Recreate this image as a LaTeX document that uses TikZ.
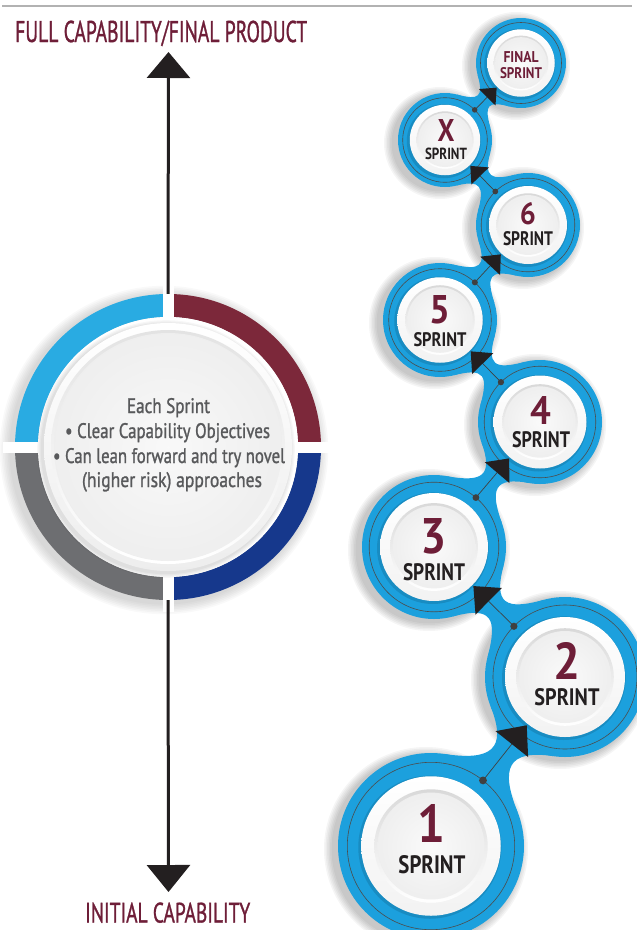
\documentclass[tikz,border=0pt]{standalone}
\usepackage{fontspec}
\setmainfont{PT Sans}
\newfontfamily\medfont{PT Sans}[FakeBold=1.3]
\usepackage{graphicx}
\usetikzlibrary{calc,arrows.meta}
\definecolor{ringblue}{RGB}{28,160,221}
\definecolor{maroon}{RGB}{110,30,56}
\definecolor{txtdark}{RGB}{35,31,32}
\definecolor{qblue}{RGB}{41,171,226}
\definecolor{qmaroon}{RGB}{124,40,58}
\definecolor{qgray}{RGB}{109,110,113}
\definecolor{qnavy}{RGB}{22,56,140}
\definecolor{bodygray}{RGB}{88,89,91}
\tikzset{
 sprintring/.style={circle, fill=ringblue, inner sep=0pt, draw=none},
 thinring/.style={draw=black!70, line width=0.6pt},
 linkline/.style={draw=black!75, line width=0.7pt},
 arrowblack/.style={fill=txtdark},
 dotgray/.style={fill=black!75},
 digitlbl/.style={inner sep=0pt, text=maroon, font=\bfseries},
 sprintlbl/.style={inner sep=0pt, text=txtdark, font=\bfseries},
 bodyline/.style={inner sep=0pt, anchor=base, text=bodygray, font=\medfont\fontsize{21}{24}\selectfont},
 shaft/.style={line width=3pt, draw=txtdark},
 headline/.style={inner sep=0pt, anchor=base west, text=maroon, font=\medfont},
}
\newcommand\neckshape[5]{%
  \pgfmathsetmacro\nkt{(2*(#3+#4)-8*#5)/5.196}%
  \coordinate (nkp1) at ($(#1)!#3pt!30:(#2)$);
  \coordinate (nkq1) at ($(nkp1)!\nkt pt!90:(#1)$);
  \coordinate (nkp2) at ($(#2)!#4pt!-30:(#1)$);
  \coordinate (nkq2) at ($(nkp2)!\nkt pt!-90:(#2)$);
  \coordinate (nkp3) at ($(#2)!#4pt!30:(#1)$);
  \coordinate (nkq3) at ($(nkp3)!\nkt pt!90:(#2)$);
  \coordinate (nkp4) at ($(#1)!#3pt!-30:(#2)$);
  \coordinate (nkq4) at ($(nkp4)!\nkt pt!-90:(#1)$);
  \fill[ringblue] (nkp1) .. controls (nkq1) and (nkq2) .. (nkp2) -- (nkp3) .. controls (nkq3) and (nkq4) .. (nkp4) -- cycle;
}
\newcommand\linkarrow[4]{%
  \pgfmathsetmacro\lkd{0.9*#3}%
  \pgfmathsetmacro\lktip{0.77*#4}%
  \pgfmathsetmacro\lkbase{1.07*#4}%
  \pgfmathsetmacro\lkw{0.26*#4}%
  \pgfmathsetmacro\lkdot{1.6+0.025*#3}%
  \coordinate (lkdot) at ($(#1)!\lkd pt!(#2)$);
  \coordinate (lktip) at ($(#2)!\lktip pt!(#1)$);
  \coordinate (lkbc) at ($(#2)!\lkbase pt!(#1)$);
  \draw[linkline] (lkdot) -- (lkbc);
  \fill[arrowblack] (lktip) -- ($(lkbc)!\lkw pt!90:(#2)$) -- ($(lkbc)!\lkw pt!-90:(#2)$) -- cycle;
  \fill[dotgray] (lkdot) circle (\lkdot pt);
}
\newcommand\sprintshadow[2]{%
  \foreach \k in {1,...,6}{%
    \pgfmathsetmacro\shr{#2+\k*1.5}%
    \fill[black,opacity=0.04] ($(#1)+(-5,-3)$) circle (\shr pt);
  }%
}
\newcommand\sprintdisc[3]{%
  \pgfmathsetmacro\sdD{2*#3}%
  \pgfmathsetmacro\sdA{0.9*#3}%
  \pgfmathsetmacro\sdC{0.75*#3}%
  \pgfmathsetmacro\sdG{0.75*#3+1.8}%
  \pgfmathsetmacro\sdE{0.61*#3}%
  \pgfmathsetmacro\sdF{0.575*#3}%
  \node[sprintring, minimum size=\sdD pt] (#1) at (#2) {};
  \draw[thinring] (#2) circle (\sdA pt);
  \fill[black, opacity=0.12] ($(#2)+(-1.2,-1.2)$) circle (\sdG pt);
  \shade[top color=white, bottom color=gray!10] (#2) circle (\sdC pt);
  \shade[top color=gray!30, bottom color=white] (#2) circle (\sdE pt);
  \shade[inner color=gray!4, outer color=gray!13] (#2) circle (\sdF pt);
}
\begin{document}
\begin{tikzpicture}[x=1pt,y=1pt]
\useasboundingbox (0,0) rectangle (637,-930);
% top rule
\coordinate (ruleL) at (2,-6);
\coordinate (ruleR) at (632,-6);
\draw[line width=2.5pt, gray!60] (ruleL) -- (ruleR);
% ---------- big circle ----------
\coordinate (cc) at (168,-447);
\foreach \k in {1,...,7}{%
  \pgfmathsetmacro\shr{153+\k*1.6}%
  \fill[black,opacity=0.025] ($(cc)+(-4,-3)$) circle (\shr pt);
}
\fill[qmaroon] ($(cc)+(0:153)$) arc[start angle=0,end angle=90,radius=153] -- ($(cc)+(90:130)$) arc[start angle=90,end angle=0,radius=130] -- cycle;
\fill[qblue] ($(cc)+(90:153)$) arc[start angle=90,end angle=180,radius=153] -- ($(cc)+(180:130)$) arc[start angle=180,end angle=90,radius=130] -- cycle;
\fill[qgray] ($(cc)+(180:153)$) arc[start angle=180,end angle=270,radius=153] -- ($(cc)+(270:130)$) arc[start angle=270,end angle=180,radius=130] -- cycle;
\fill[qnavy] ($(cc)+(270:153)$) arc[start angle=270,end angle=360,radius=153] -- ($(cc)+(0:130)$) arc[start angle=360,end angle=270,radius=130] -- cycle;
\fill[white] ($(cc)+(-5,165)$) rectangle ($(cc)+(5.5,-165)$);
\fill[white] ($(cc)+(-165,5)$) rectangle ($(cc)+(165,-5.5)$);
\fill[white] (cc) circle (130pt);
\foreach \k in {1,...,4}{%
  \pgfmathsetmacro\shr{124+\k*1.2}%
  \fill[black,opacity=0.03] ($(cc)+(-2,-2)$) circle (\shr pt);
}
\node[circle, minimum size=306pt, inner sep=0pt] (core) at (cc) {};
\shade[top color=white, bottom color=gray!14] (cc) circle (124pt);
\shade[top color=gray!22, bottom color=white] (cc) circle (117pt);
\shade[inner color=gray!5, outer color=gray!13] (cc) circle (114pt);
\node[bodyline] (l1) at (168.5,-413) {\resizebox{83pt}{\height}{Each Sprint}};
\node[bodyline] (l2) at (167.5,-438) {\resizebox{205pt}{\height}{• Clear Capability Objectives}};
\node[bodyline] (l3) at (169,-463) {\resizebox{232pt}{\height}{• Can lean forward and try novel}};
\node[bodyline] (l4) at (172,-487) {\resizebox{180pt}{\height}{(higher risk) approaches}};
% vertical arrows
\coordinate (uptip) at (168.5,-52);
\coordinate (downtip) at (168.5,-892);
\draw[shaft, -{Triangle[width=43pt,length=26pt]}] (core.north) -- (uptip);
\draw[shaft, -{Triangle[width=43pt,length=27pt]}] (core.south) -- (downtip);
\node[headline] (top) at (15,-42) {\resizebox{292pt}{\height}{\fontsize{30}{30}\selectfont FULL CAPABILITY/FINAL PRODUCT}};
\node[headline] (bottom) at (85,-922.5) {\resizebox{165pt}{\height}{\fontsize{28}{28}\selectfont INITIAL CAPABILITY}};
% ---------- sprint chain ----------
\coordinate (cF) at (521,-63);
\coordinate (cX) at (445,-140);
\coordinate (c6) at (528,-225);
\coordinate (c5) at (440,-320);
\coordinate (c4) at (540,-422);
\coordinate (c3) at (434,-547);
\coordinate (c2) at (565,-677);
\coordinate (c1) at (431,-846);
\sprintshadow{c1}{93}
\sprintshadow{c2}{80}
\sprintshadow{c3}{72}
\sprintshadow{c4}{62}
\sprintshadow{c5}{57}
\sprintshadow{c6}{52}
\sprintshadow{cX}{47}
\sprintshadow{cF}{45}
\neckshape{c1}{c2}{93}{80}{13}
\neckshape{c2}{c3}{80}{72}{12}
\neckshape{c3}{c4}{72}{62}{10.5}
\neckshape{c4}{c5}{62}{57}{9.5}
\neckshape{c5}{c6}{57}{52}{9}
\neckshape{c6}{cX}{52}{47}{8.5}
\neckshape{cX}{cF}{47}{45}{8}
\sprintdisc{s1}{c1}{93}
\sprintdisc{s2}{c2}{80}
\sprintdisc{s3}{c3}{72}
\sprintdisc{s4}{c4}{62}
\sprintdisc{s5}{c5}{57}
\sprintdisc{s6}{c6}{52}
\sprintdisc{sX}{cX}{47}
\sprintdisc{sF}{cF}{45}
\linkarrow{s1}{s2}{93}{80}
\linkarrow{s2}{s3}{80}{72}
\linkarrow{s3}{s4}{72}{62}
\linkarrow{s4}{s5}{62}{57}
\linkarrow{s5}{s6}{57}{52}
\linkarrow{s6}{sX}{52}{47}
\linkarrow{sX}{sF}{47}{45}
% labels
\node[digitlbl] (d1) at (431,-823) {\scalebox{0.92}[1]{\resizebox{!}{38pt}{1}}};
\node[sprintlbl] (t1) at (432,-865) {\resizebox{67pt}{18pt}{SPRINT}};
\node[digitlbl] (d2) at (567,-660.5) {\scalebox{0.92}[1]{\resizebox{!}{37pt}{2}}};
\node[sprintlbl] (t2) at (567,-697.5) {\resizebox{65pt}{17pt}{SPRINT}};
\node[digitlbl] (d3) at (434,-536.5) {\scalebox{0.92}[1]{\resizebox{!}{35pt}{3}}};
\node[sprintlbl] (t3) at (434,-572.5) {\resizebox{62pt}{17pt}{SPRINT}};
\node[digitlbl] (d4) at (541,-410) {\scalebox{0.92}[1]{\resizebox{!}{28pt}{4}}};
\node[sprintlbl] (t4) at (541,-439.5) {\resizebox{58pt}{16pt}{SPRINT}};
\node[digitlbl] (d5) at (440,-310) {\scalebox{0.92}[1]{\resizebox{!}{28pt}{5}}};
\node[sprintlbl] (t5) at (440,-339.5) {\resizebox{53pt}{14pt}{SPRINT}};
\node[digitlbl] (d6) at (528,-214) {\scalebox{0.92}[1]{\resizebox{!}{22pt}{6}}};
\node[sprintlbl] (t6) at (528,-238.5) {\resizebox{50pt}{14pt}{SPRINT}};
\node[digitlbl] (dX) at (446,-130) {\scalebox{0.85}[1]{\resizebox{!}{22pt}{X}}};
\node[sprintlbl] (tX) at (446,-153.5) {\resizebox{42pt}{11.5pt}{SPRINT}};
\node[digitlbl] (dF) at (521,-57) {\resizebox{35pt}{11pt}{FINAL}};
\node[digitlbl] (tF) at (521,-73) {\resizebox{42pt}{11pt}{SPRINT}};
\end{tikzpicture}
\end{document}
